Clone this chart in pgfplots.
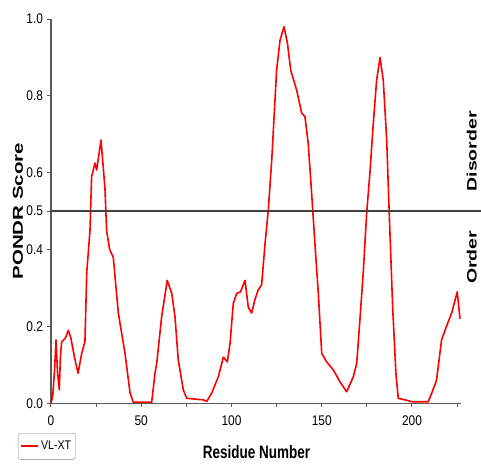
\documentclass[border=0pt]{standalone}
\usepackage{pgfplots}
\pgfplotsset{compat=1.18}
\usepackage{fontspec}
\setmainfont{Liberation Sans}
\newfontfamily\nfont[FakeStretch=0.85]{Liberation Sans}
\newfontfamily\lfont[FakeStretch=0.75]{Liberation Sans}
\definecolor{axgray}{RGB}{90,90,90}
\begin{document}
\begin{tikzpicture}
\begin{axis}[
  at={(0,0)}, anchor=south west,
  scale only axis,
  width=409.7pt, height=384.3pt,
  xmin=0, xmax=227, ymin=0, ymax=1.0,
  axis x line=bottom, axis y line=left,
  axis line style={-, axgray, line width=1.5pt},
  xtick={0,50,100,150,200},
  minor xtick={25,75,125,175,225},
  ytick={0,0.2,0.4,0.5,0.6,0.8,1.0},
  yticklabels={0.0,0.2,0.4,0.5,0.6,0.8,1.0},
  tick align=outside,
  major tick length=3.5pt, minor tick length=3.5pt,
  tick style={axgray, line width=1pt},
  tick label style={font=\nfont\fontsize{14}{15}\selectfont, text=black},
  xticklabel style={yshift=-5pt},
  yticklabel style={xshift=-1pt},
  /pgf/number format/assume math mode=true,
  clip=false,
  xlabel={\lfont\bfseries\fontsize{18}{20}\selectfont Residue Number},
  xlabel style={at={(axis description cs:0.5016,-0.1267)}, anchor=center},
  ylabel={\scalebox{1}[0.7]{\bfseries\fontsize{20.5}{22}\selectfont PONDR Score}},
  ylabel style={at={(axis description cs:-0.0805,0.5)}, anchor=center, rotate=0},
  legend style={at={(axis description cs:-0.0798,-0.0773)}, anchor=north west,
    draw=gray, rounded corners=2pt, font=\nfont\fontsize{12.5}{13}\selectfont,
    inner xsep=2pt, inner ysep=6pt, legend cell align=left},
  legend image code/.code={\draw[#1, line width=1.6pt] (0pt,0pt) -- (17pt,0pt);},
]
\addplot[red, line width=1.6pt, line join=round] coordinates {
(0,0.0) (1,0.02) (2,0.09) (2.8,0.165) (3.6,0.08) (4.6,0.035) (5.2,0.12) (5.9,0.16)
(8,0.17) (9.6,0.19) (11,0.17) (13,0.12) (15,0.078) (17,0.13) (18.8,0.16)
(19.8,0.34) (21.6,0.45) (22.5,0.59) (24.4,0.625) (25.3,0.607) (27.7,0.685)
(29.9,0.56) (30.8,0.45) (32.5,0.40) (34.5,0.38) (37.3,0.235) (41,0.13)
(43.8,0.027) (45.6,0.003) (55.8,0.003) (57.6,0.078) (58.6,0.105) (61.3,0.225)
(64.4,0.32) (66.9,0.286) (68.7,0.225) (70.5,0.113) (73.3,0.035) (75.2,0.013)
(84.4,0.009) (86.3,0.005) (89,0.026) (92.7,0.069) (95.5,0.12) (97.7,0.108)
(99.2,0.156) (101,0.26) (102.9,0.286) (105,0.29) (107.5,0.32) (109.3,0.25)
(111.2,0.235) (113,0.27) (114.8,0.295) (116.7,0.308) (118.6,0.416)
(120.4,0.503) (122.3,0.633) (123.5,0.737) (125,0.867) (126.9,0.945)
(129.1,0.98) (131,0.937) (132.8,0.867) (136.1,0.815) (138.9,0.755)
(140.7,0.746) (142.5,0.677) (144.4,0.547) (146.2,0.417) (148.1,0.287)
(150,0.13) (152.7,0.108) (156.4,0.087) (160.1,0.056) (163.8,0.03)
(167.5,0.069) (169.4,0.105) (171.2,0.22) (173,0.34) (174.9,0.495)
(176.7,0.6) (178.6,0.73) (180.4,0.84) (182.3,0.90) (184.1,0.84) (186,0.685)
(187.4,0.495) (189.3,0.25) (191.1,0.078) (192.4,0.013) (197,0.008)
(199.8,0.004) (209,0.004) (210.9,0.026) (213.6,0.06) (216.4,0.165)
(219.1,0.2) (222,0.235) (225.1,0.29) (226.6,0.22)
};
\addlegendentry{VL-XT}
\draw[black!75, line width=1.4pt] (axis cs:0,0.5) -- ++(440pt,0pt);
\end{axis}
\node[rotate=90, anchor=south, inner sep=0pt] at (426pt,252pt) {\scalebox{1}[0.7]{\bfseries\fontsize{19.5}{21}\selectfont Disorder}};
\node[rotate=90, anchor=south, inner sep=0pt] at (426pt,146pt) {\scalebox{1}[0.7]{\bfseries\fontsize{19.5}{21}\selectfont Order}};
\pgfresetboundingbox
\useasboundingbox (-51pt,-63.7pt) rectangle (430pt,403.3pt);
\end{tikzpicture}
\end{document}
